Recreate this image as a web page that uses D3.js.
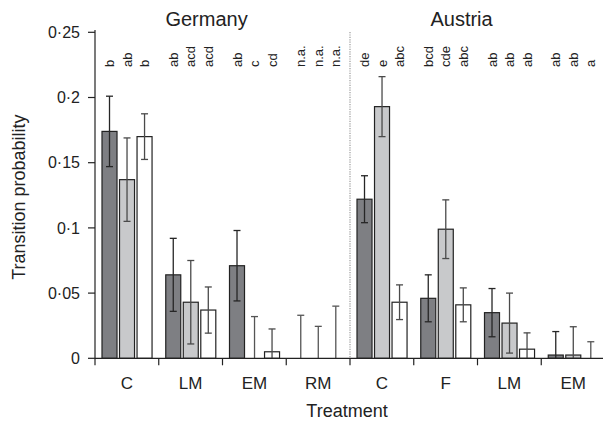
<!DOCTYPE html>
<html>
<head>
<meta charset="utf-8">
<script src="https://cdn.jsdelivr.net/npm/d3@7"></script>
<style>
  html, body { margin: 0; padding: 0; background: #fff; }
  svg { display: block; font-family: "Liberation Sans", Arial, sans-serif; }
</style>
</head>
<body>
<svg id="chart" width="603" height="422"></svg>
<script>
// Treatments, grouped by country
const countries = ["Germany", "Austria"];
const treatments = ["C", "LM", "EM", "RM", "C", "F", "LM", "EM"];
const treatmentCountry = [0, 0, 0, 0, 1, 1, 1, 1];

// Mean transition probabilities for the three series (dark, grey, white)
const seriesDark  = [0.174, 0.064, 0.071, 0, 0.122, 0.046, 0.035, 0.0025];
const seriesGrey  = [0.137, 0.043, 0, 0, 0.193, 0.099, 0.027, 0.0025];
const seriesWhite = [0.170, 0.037, 0.005, 0, 0.043, 0.041, 0.007, 0];

// Standard errors
const errDark  = [0.027, 0.028, 0.027, 0.033, 0.018, 0.018, 0.0185, 0.018];
const errGrey  = [0.032, 0.032, 0.032, 0.0245, 0.023, 0.0225, 0.023, 0.0217];
const errWhite = [0.0175, 0.0177, 0.0175, 0.040, 0.0133, 0.013, 0.0125, 0.0127];

// Significance letters above each bar
const lettersDark  = ["b", "ab", "ab", "n.a.", "de", "bcd", "ab", "ab"];
const lettersGrey  = ["ab", "acd", "c", "n.a.", "e", "cde", "ab", "ab"];
const lettersWhite = ["b", "acd", "cd", "n.a.", "abc", "abc", "ab", "a"];

const yTicks = [0, 0.05, 0.1, 0.15, 0.2, 0.25];
const yTickLabels = ["0", "0·05", "0·1", "0·15", "0·2", "0·25"];

const series = [
  { values: seriesDark,  errors: errDark,  letters: lettersDark,  fill: "#7e7f83", err: "#262626" },
  { values: seriesGrey,  errors: errGrey,  letters: lettersGrey,  fill: "#c8c9cb", err: "#4a4a4a" },
  { values: seriesWhite, errors: errWhite, letters: lettersWhite, fill: "#ffffff", err: "#4a4a4a" }
];

const svg = d3.select("#chart");
const plotLeft = 95, plotRight = 605, plotTop = 30, plotBottom = 358.3;

const x0 = d3.scaleBand().domain(d3.range(treatments.length)).range([plotLeft, plotRight]).padding(0);
const x1 = d3.scaleBand().domain(d3.range(series.length))
  .range([7, x0.bandwidth() - 6.7]).paddingInner(0.143).paddingOuter(0);
const y = d3.scaleLinear().domain([0, 0.25]).range([plotBottom, plotBottom - 0.25 * 1304]);

const ink = "#222";

// Country separator
svg.append("line")
  .attr("x1", x0(4)).attr("x2", x0(4))
  .attr("y1", plotTop + 2).attr("y2", plotBottom)
  .attr("stroke", "#9a9a9a").attr("stroke-width", 1.2)
  .attr("stroke-dasharray", "1.2,1.2");

// Bars
treatments.forEach((t, i) => {
  series.forEach((s, j) => {
    const v = s.values[i];
    const bx = x0(i) + x1(j);
    const bw = x1.bandwidth();
    if (v > 0) {
      svg.append("rect")
        .attr("x", bx).attr("y", y(v))
        .attr("width", bw).attr("height", y(0) - y(v))
        .attr("fill", s.fill).attr("stroke", ink).attr("stroke-width", 1.2);
    }
  });
});

// Error bars
treatments.forEach((t, i) => {
  series.forEach((s, j) => {
    const v = s.values[i], e = s.errors[i];
    const cx = x0(i) + x1(j) + x1.bandwidth() / 2;
    const hi = v + e, lo = Math.max(0, v - e);
    const col = v > 0 ? s.err : "#555";
    svg.append("line")
      .attr("x1", cx).attr("x2", cx)
      .attr("y1", y(hi)).attr("y2", y(lo))
      .attr("stroke", col).attr("stroke-width", 1.3);
    svg.append("line")
      .attr("x1", cx - 3.5).attr("x2", cx + 3.5)
      .attr("y1", y(hi)).attr("y2", y(hi))
      .attr("stroke", col).attr("stroke-width", 1.3);
    if (v - e > 0) {
      svg.append("line")
        .attr("x1", cx - 3.5).attr("x2", cx + 3.5)
        .attr("y1", y(lo)).attr("y2", y(lo))
        .attr("stroke", col).attr("stroke-width", 1.3);
    }
  });
});

// Significance letters, rotated
treatments.forEach((t, i) => {
  series.forEach((s, j) => {
    const cx = x0(i) + x1(j) + x1.bandwidth() / 2;
    svg.append("text")
      .attr("transform", `translate(${cx},67) rotate(-90)`)
      .attr("dy", "0.36em")
      .attr("font-size", 13)
      .attr("fill", ink)
      .text(s.letters[i]);
  });
});

// Y axis
const yAxis = svg.append("g").attr("transform", `translate(${plotLeft},0)`);
yAxis.append("line")
  .attr("x1", 0).attr("x2", 0).attr("y1", plotTop).attr("y2", plotBottom)
  .attr("stroke", ink).attr("stroke-width", 1.2);
yAxis.selectAll(".tick").data(yTicks).join("line")
  .attr("x1", -7).attr("x2", 0)
  .attr("y1", d => y(d)).attr("y2", d => y(d))
  .attr("stroke", ink).attr("stroke-width", 1.2);
yAxis.selectAll(".lab").data(yTicks).join("text")
  .attr("x", -15).attr("y", d => y(d)).attr("dy", "0.36em")
  .attr("text-anchor", "end").attr("font-size", 16).attr("fill", ink)
  .text((d, k) => yTickLabels[k]);

// X axis
svg.append("line")
  .attr("x1", plotLeft).attr("x2", plotRight).attr("y1", plotBottom).attr("y2", plotBottom)
  .attr("stroke", ink).attr("stroke-width", 1.2);
svg.append("g").selectAll("line").data(d3.range(treatments.length + 1)).join("line")
  .attr("x1", d => plotLeft + d * x0.step()).attr("x2", d => plotLeft + d * x0.step())
  .attr("y1", plotBottom).attr("y2", plotBottom + 7)
  .attr("stroke", ink).attr("stroke-width", 1.2);
svg.append("g").selectAll("text").data(treatments).join("text")
  .attr("x", (d, i) => x0(i) + x0.bandwidth() / 2)
  .attr("y", 389)
  .attr("text-anchor", "middle").attr("font-size", 17).attr("fill", ink)
  .text(d => d);

// Axis titles
svg.append("text")
  .attr("x", (plotLeft + plotRight) / 2 - 3).attr("y", 417)
  .attr("text-anchor", "middle").attr("font-size", 18).attr("fill", ink)
  .text("Treatment");
svg.append("text")
  .attr("transform", `translate(25,${(plotTop + plotBottom) / 2 + 3}) rotate(-90)`)
  .attr("text-anchor", "middle").attr("font-size", 18).attr("fill", ink)
  .text("Transition probability");

// Country titles
countries.forEach((c, k) => {
  const first = treatmentCountry.indexOf(k);
  svg.append("text")
    .attr("x", x0(first + 1) + x0.bandwidth() * 0.75)
    .attr("y", 26)
    .attr("text-anchor", "middle").attr("font-size", 20).attr("fill", ink)
    .text(c);
});
</script>
</body>
</html>
